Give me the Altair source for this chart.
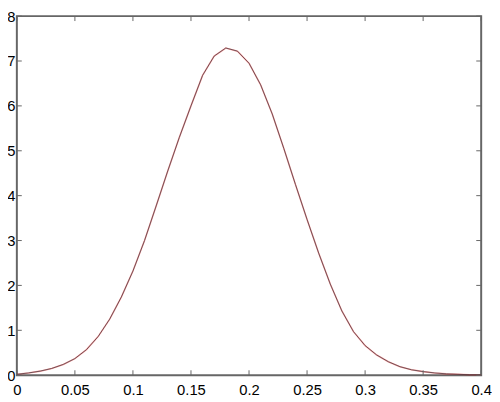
import altair as alt
import pandas as pd

# curve values
X_VALUES = [0.00, 0.01, 0.02, 0.03, 0.04, 0.05, 0.06, 0.07, 0.08, 0.09,
            0.10, 0.11, 0.12, 0.13, 0.14, 0.15, 0.16, 0.17, 0.18, 0.19,
            0.20, 0.21, 0.22, 0.23, 0.24, 0.25, 0.26, 0.27, 0.28, 0.29,
            0.30, 0.31, 0.32, 0.33, 0.34, 0.35, 0.36, 0.37, 0.38, 0.39, 0.40]
Y_VALUES = [0.02, 0.05, 0.09, 0.15, 0.24, 0.37, 0.57, 0.86, 1.25, 1.74,
            2.32, 3.00, 3.77, 4.55, 5.30, 6.00, 6.68, 7.11, 7.29, 7.22,
            6.95, 6.47, 5.82, 5.05, 4.25, 3.47, 2.72, 2.03, 1.43, 0.97,
            0.66, 0.45, 0.30, 0.19, 0.12, 0.08, 0.05, 0.03, 0.02, 0.01, 0.01]
X_TICKS = [0, 0.05, 0.1, 0.15, 0.2, 0.25, 0.3, 0.35, 0.4]
Y_TICKS = [0, 1, 2, 3, 4, 5, 6, 7, 8]

W, H = 472, 365
FRAME = "#666666"

curve = pd.DataFrame({"x": X_VALUES, "y": Y_VALUES})
xt = pd.DataFrame({"x": X_TICKS})
yt = pd.DataFrame({"y": Y_TICKS})

xscale = alt.Scale(domain=[0, 0.4], nice=False, zero=False)
yscale = alt.Scale(domain=[0, 8], nice=False, zero=False)

xaxis = alt.Axis(values=X_TICKS, format="~g", ticks=False, domain=False, grid=False,
                 labelFontSize=15, labelColor="#000", labelPadding=8, title=None,
                 labelFont="Liberation Sans", labelFlush=False)
yaxis = alt.Axis(values=Y_TICKS, format="d", ticks=False, domain=False, grid=False,
                 labelFontSize=15, labelColor="#000", labelPadding=2, title=None,
                 labelFont="Liberation Sans")

red = alt.Chart(curve).mark_line(color="#ff0000", strokeWidth=1.6, opacity=0.35).encode(
    x=alt.X("x:Q", scale=xscale, axis=xaxis),
    y=alt.Y("y:Q", scale=yscale, axis=yaxis),
)
dark = alt.Chart(curve).mark_line(color="#4a3a40", strokeWidth=0.8).encode(
    x=alt.X("x:Q", scale=xscale),
    y=alt.Y("y:Q", scale=yscale),
)

tick_bottom = alt.Chart(xt).mark_rule(color=FRAME, strokeWidth=1).encode(
    x=alt.X("x:Q", scale=xscale), y=alt.value(H), y2=alt.value(H - 5))
tick_top = alt.Chart(xt).mark_rule(color=FRAME, strokeWidth=1).encode(
    x=alt.X("x:Q", scale=xscale), y=alt.value(0), y2=alt.value(5))
tick_left = alt.Chart(yt).mark_rule(color=FRAME, strokeWidth=1).encode(
    y=alt.Y("y:Q", scale=yscale), x=alt.value(0), x2=alt.value(5))
tick_right = alt.Chart(yt).mark_rule(color=FRAME, strokeWidth=1).encode(
    y=alt.Y("y:Q", scale=yscale), x=alt.value(W), x2=alt.value(W - 5))

chart = alt.layer(red, dark, tick_bottom, tick_top, tick_left, tick_right).properties(
    width=W, height=H,
    autosize=alt.AutoSizeParams(type="none"),
    padding={"left": 9, "top": 5, "right": 11, "bottom": 24},
    background="white",
).configure_view(stroke=FRAME, strokeWidth=2)

chart.save("out.html", embed_options={"renderer": "svg", "actions": False})
